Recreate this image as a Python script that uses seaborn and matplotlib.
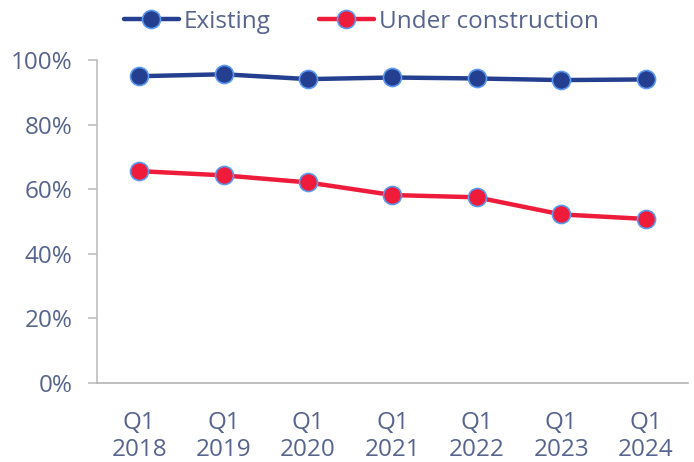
import matplotlib
matplotlib.use("Agg")
import matplotlib.pyplot as plt
import seaborn as sns
import pandas as pd
from matplotlib.ticker import FuncFormatter

categories = ["Q1\n2018", "Q1\n2019", "Q1\n2020", "Q1\n2021", "Q1\n2022", "Q1\n2023", "Q1\n2024"]
existing = [95.0, 95.6, 94.1, 94.6, 94.3, 93.8, 94.0]
under_construction = [65.6, 64.3, 62.1, 58.2, 57.5, 52.2, 50.8]
series_names = ["Existing", "Under construction"]
colors = ["#243f8f", "#ee1b3a"]

df = pd.DataFrame({
    "quarter": categories * 2,
    "x": list(range(len(categories))) * 2,
    "value": existing + under_construction,
    "series": [series_names[0]] * len(categories) + [series_names[1]] * len(categories),
})

sns.set_theme(style="white")
plt.rcParams['font.family'] = ['Open Sans', 'DejaVu Sans']
text_color = "#56648e"
fs = 17.5

fig = plt.figure(figsize=(6.94, 4.62), dpi=100)
ax = fig.add_axes([0.140, 0.171, 0.851, 0.699])

sns.lineplot(data=df, x="x", y="value", hue="series", palette=colors,
             marker="o", markersize=13, linewidth=3.2,
             markeredgecolor="#5b9af0", markeredgewidth=1.2, ax=ax)

ax.set_xlim(-0.5, len(categories) - 0.5)
ax.set_ylim(0, 100)
ax.set_yticks([0, 20, 40, 60, 80, 100])
ax.yaxis.set_major_formatter(FuncFormatter(lambda v, p: f"{v:.0f}%"))
ax.set_xticks(range(len(categories)))
ax.set_xticklabels(categories)
ax.set_xlabel("")
ax.set_ylabel("")

for s in ["top", "right"]:
    ax.spines[s].set_visible(False)
ax.spines["left"].set_color("#bfbfbf")
ax.spines["bottom"].set_color("#b4b4b4")
ax.spines["left"].set_linewidth(1.2)
ax.spines["bottom"].set_linewidth(1.2)

ax.tick_params(axis="y", which="both", left=True, length=6.5, width=1.2, color="#bfbfbf",
               labelsize=fs, labelcolor=text_color, pad=11)
ax.tick_params(axis="x", which="both", bottom=False, labelsize=fs, labelcolor=text_color, pad=14)

handles, labels = ax.get_legend_handles_labels()
leg = ax.legend(handles, labels, loc="center", bbox_to_anchor=(0.447, 1.118), ncol=2,
                frameon=False, fontsize=fs, handlelength=2.25, handletextpad=0.2,
                columnspacing=2.0, borderaxespad=0, borderpad=0)
for t in leg.get_texts():
    t.set_color(text_color)

fig.savefig("out.png", dpi=100)
